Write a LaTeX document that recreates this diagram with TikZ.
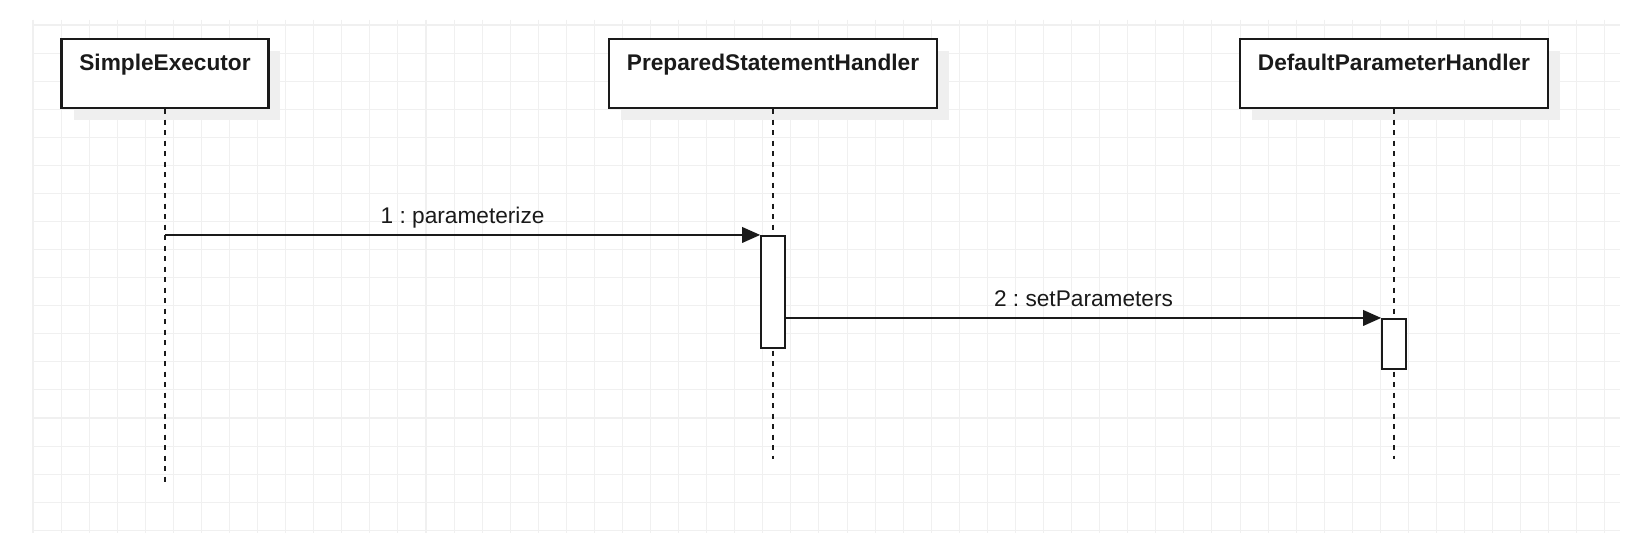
\documentclass[tikz,border=0pt]{standalone}
\usepackage{fontspec}
\setmainfont{Liberation Sans}
\usetikzlibrary{arrows.meta,shadows}
\definecolor{Canvas}{HTML}{FFFFFF}
\definecolor{GridLine}{HTML}{F0F0F0}
\definecolor{Shade}{HTML}{EFEFEF}
\definecolor{Ink}{HTML}{1A1A1A}
\frenchspacing

\begin{document}
\begin{tikzpicture}[x=0.02cm,y=-0.02cm,font=\fontsize{12.9}{15}\selectfont,text=Ink,gridline/.style={draw=GridLine,line width=0.6pt},header/.style={draw=Ink,fill=white,line width=1.3pt,minimum height=1.38cm,inner ysep=0pt,text height=0.62cm,text depth=0.76cm,font=\fontsize{12.9}{15}\selectfont\bfseries,drop shadow={shadow xshift=0.24cm,shadow yshift=-0.24cm,fill=Shade,opacity=1}},lifeline/.style={draw=Ink,line width=1.1pt,dash pattern=on 0.1cm off 0.11cm},activation/.style={draw=Ink,fill=white,line width=1.2pt,minimum width=0.47cm,inner sep=0pt},msg/.style={draw=Ink,line width=1.1pt,-{Triangle[length=0.36cm,width=0.31cm]}}]
\useasboundingbox[fill=Canvas] (0,0) rectangle (1632,554);
\foreach \i in {0,...,56} \draw[gridline] ({33+28.07*\i},20) -- ({33+28.07*\i},533);
\foreach \j in {0,...,18} \draw[gridline] (32,{25+28.07*\j}) -- (1620,{25+28.07*\j});
\node[header,minimum width=4.14cm] (se) at (165,73.5){SimpleExecutor};
\node[header,minimum width=6.56cm] (psh) at (773,73.5){PreparedStatementHandler};
\node[header,minimum width=6.16cm] (dph) at (1394,73.5){DefaultParameterHandler};
\coordinate (se end) at (165,482);
\coordinate (psh end) at (773,459);
\coordinate (dph end) at (1394,459);
\draw[lifeline] (se.south) -- (se end);
\draw[lifeline] (psh.south) -- (psh end);
\draw[lifeline] (dph.south) -- (dph end);
\node[activation,minimum height=2.24cm] (act1) at (773,292){};
\node[activation,minimum height=1.0cm] (act2) at (1394,344){};
\draw[msg] (se.south |- act1.north west) -- node[anchor=base,yshift=0.22cm]{1 : parameterize} (act1.north west);
\draw[msg] (act1.east |- act2.north west) -- node[anchor=base,yshift=0.22cm]{2 : setParameters} (act2.north west);
\end{tikzpicture}
\end{document}
